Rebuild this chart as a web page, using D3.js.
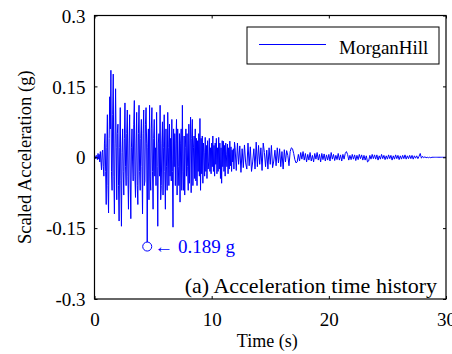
<!DOCTYPE html>
<html>
<head>
<meta charset="utf-8">
<script src="https://cdn.jsdelivr.net/npm/d3@7"></script>
<style>
  html, body { margin: 0; padding: 0; background: #fff; }
  svg text { font-family: "Times New Roman", "Liberation Serif", Tinos, "DejaVu Serif", serif; }
</style>
</head>
<body>
<svg id="chart" width="452" height="354"></svg>
<script>
// Scaled ground acceleration record (g).
// Strong-motion part, sampled every 0.05 s from t = 0 s
const dtStrong = 0.05;
const accelStrong = [
  // 0 - 1 s
  0.000, 0.002, -0.003, 0.004, 0.001, -0.005, 0.008, -0.004, 0.006, -0.010,
  0.012, -0.008, -0.027, 0.010, 0.015, -0.020, -0.040, 0.030, 0.050, -0.030,
  // 1 - 2 s
  -0.100, 0.020, 0.090, -0.060, -0.118, 0.040, 0.128, 0.060, 0.184, -0.030,
  -0.070, 0.090, 0.176, -0.040, -0.120, 0.030, 0.145, 0.020, -0.090, 0.050,
  // 2 - 3 s
  0.070, -0.060, -0.135, 0.020, 0.105, -0.050, -0.146, 0.010, 0.060, -0.030,
  -0.080, 0.040, 0.115, -0.020, -0.060, 0.050, 0.100, -0.040, -0.110, 0.030,
  // 3 - 4 s
  0.090, -0.050, -0.130, 0.020, 0.060, -0.010, -0.050, 0.070, 0.120, -0.040,
  -0.085, 0.030, 0.095, -0.060, -0.100, 0.050, 0.110, -0.030, -0.070, 0.040,
  // 4 - 5 s
  0.080, -0.020, -0.120, 0.050, 0.100, -0.060, -0.050, 0.070, 0.105, 0.030,
  -0.189, 0.020, 0.060, -0.090, 0.110, -0.040, -0.070, 0.060, 0.105, -0.030,
  // 5 - 6 s
  -0.110, 0.040, 0.080, -0.040, 0.020, -0.060, 0.095, -0.020, -0.146, 0.030,
  0.050, -0.040, 0.110, -0.090, -0.060, 0.030, 0.075, -0.080, 0.020, 0.090,
  // 6 - 7 s
  -0.030, -0.110, 0.060, -0.020, -0.070, 0.095, 0.020, -0.060, 0.070, -0.040,
  0.040, -0.050, 0.080, -0.030, -0.148, 0.060, -0.020, 0.050, -0.060, 0.030,
  // 7 - 8 s
  0.080, -0.080, 0.060, -0.020, -0.060, 0.050, -0.095, 0.030, 0.060, -0.070,
  0.110, -0.030, -0.070, 0.045, -0.080, 0.020, 0.060, -0.040, 0.050, -0.020,
  // 8 - 9 s
  -0.070, 0.070, -0.055, 0.030, 0.085, -0.075, 0.040, 0.080, -0.060, 0.020,
  0.045, -0.045, 0.060, -0.050, 0.040, -0.060, 0.035, -0.030, 0.050, -0.040,
  // 9 - 10 s
  0.082, -0.070, 0.040, -0.035, 0.045, -0.055, 0.030, 0.010, -0.040, 0.042,
  -0.030, 0.025, -0.045, 0.035, -0.025, -0.010, 0.040, -0.030, 0.020, -0.035,
  // 10 - 11 s
  0.030, -0.020, 0.045, -0.030, 0.025, -0.040, 0.030, -0.015, 0.040, -0.035,
  0.020, -0.030, 0.042, -0.025, 0.030, -0.045, 0.020, -0.055, 0.035, -0.020,
  // 11 - 12 s
  0.034, -0.030, 0.025, -0.040, 0.030, 0.005, -0.020, 0.028, -0.035, 0.020,
  -0.025, 0.034, -0.018, 0.022, -0.030, 0.015, -0.010, 0.018, -0.025, 0.032
];

// Coda, sampled every 0.1 s from t = 12 s
const codaStart = 12;
const dtCoda = 0.1;
const accelCoda = [
  // 12 - 20 s
  0.020, -0.028, 0.030, -0.015, 0.024, -0.032, 0.018, -0.022, 0.026, -0.012,
  -0.025, 0.030, -0.018, 0.022, -0.030, -0.010, 0.018, -0.025, 0.032, -0.020,
  0.025, -0.015, 0.020, -0.028, 0.030, 0.010, -0.020, 0.015, -0.025, 0.020,
  -0.015, 0.025, -0.022, -0.008, 0.015, -0.018, 0.020, -0.012, 0.018, -0.020,
  0.012, -0.025, 0.016, -0.010, 0.014, 0.004, -0.018, 0.012, 0.020, 0.018,
  0.008, -0.005, -0.012, -0.010, 0.006, -0.008, 0.010, -0.004, 0.012, -0.006,
  0.008, -0.010, 0.006, -0.006, 0.010, -0.008, 0.004, -0.010, 0.008, -0.004,
  0.010, -0.006, 0.006, -0.010, 0.008, -0.005, 0.007, -0.008, 0.005, -0.006,
  // 20 - 30 s
  0.006, -0.008, 0.010, -0.004, 0.006, -0.007, 0.004, -0.005, 0.008, -0.006,
  0.005, -0.008, 0.006, -0.004, 0.008, 0.012, 0.006, -0.006, 0.004, -0.005,
  0.006, -0.004, 0.005, -0.007, 0.004, -0.005, 0.006, -0.003, 0.005, -0.006,
  0.004, -0.006, 0.003, -0.010, -0.008, 0.004, -0.004, 0.006, -0.003, 0.005,
  -0.004, 0.005, -0.006, 0.003, -0.004, 0.006, -0.003, 0.004, -0.005, 0.003,
  -0.004, 0.005, -0.003, 0.004, -0.006, 0.003, -0.004, 0.005, -0.003, 0.004,
  -0.005, 0.003, -0.004, 0.004, -0.003, 0.005, -0.004, 0.003, -0.003, 0.004,
  -0.003, 0.004, -0.004, 0.003, -0.002, 0.003, -0.003, 0.002, 0.008, -0.002,
  0.002, -0.001, 0.001, -0.001, 0.000, -0.001, 0.000, -0.001, 0.000, 0.000,
  0.000, 0.000, 0.000, 0.000, 0.000, 0.000, 0.000, 0.000, 0.000, 0.000,
  0.000
];

const seriesName = "MorganHill";
const xTicks = [0, 10, 20, 30];
const yTicks = [-0.3, -0.15, 0, 0.15, 0.3];
const yTickLabels = ["-0.3", "-0.15", "0", "0.15", "0.3"];
const peakTime = 4.5;     // time of the largest excursion (s)
const peakValue = -0.189; // largest excursion (g)
const peakLabel = "\u2190 0.189 g";
const panelTitle = "(a) Acceleration time history";

const FONT = '"Times New Roman", "Liberation Serif", Tinos, "DejaVu Serif", serif';

const svg = d3.select("#chart");
const plotLeft = 94.5, plotRight = 446, plotTop = 15.5, plotBottom = 299;

const x = d3.scaleLinear().domain([0, 30]).range([plotLeft, plotRight]);
const y = d3.scaleLinear().domain([-0.3, 0.3]).range([plotBottom, plotTop]);

const points = accelStrong.map((v, i) => [i * dtStrong, v])
  .concat(accelCoda.map((v, i) => [codaStart + i * dtCoda, v]));

// signal
svg.append("path")
  .datum(points)
  .attr("fill", "none")
  .attr("stroke", "#0000ff")
  .attr("stroke-width", 1)
  .attr("stroke-linejoin", "round")
  .attr("d", d3.line().x(d => x(d[0])).y(d => y(d[1])));

// axes with inward ticks, mirrored on top/right
const tickLen = 3;
const fmtY = (d) => yTickLabels[yTicks.indexOf(d)];

const gx = svg.append("g").attr("transform", `translate(0,${plotBottom})`)
  .call(d3.axisBottom(x).tickValues(xTicks).tickSize(-tickLen).tickPadding(14).tickFormat(d3.format("d")));
const gxTop = svg.append("g").attr("transform", `translate(0,${plotTop})`)
  .call(d3.axisTop(x).tickValues(xTicks).tickSize(-tickLen).tickFormat(""));
const gy = svg.append("g").attr("transform", `translate(${plotLeft},0)`)
  .call(d3.axisLeft(y).tickValues(yTicks).tickSize(-tickLen).tickPadding(9).tickFormat(fmtY));
const gyRight = svg.append("g").attr("transform", `translate(${plotRight},0)`)
  .call(d3.axisRight(y).tickValues(yTicks).tickSize(-tickLen).tickFormat(""));

[gx, gxTop, gy, gyRight].forEach(g => {
  g.attr("font-family", FONT);
  g.select(".domain").remove();
  g.selectAll(".tick line").attr("stroke", "#000").attr("stroke-width", 1);
  g.selectAll("text").attr("fill", "#000")
    .attr("font-family", FONT)
    .attr("font-size", 19);
});
gy.selectAll("text").attr("dy", "0.35em");

// frame
svg.append("rect")
  .attr("x", plotLeft).attr("y", plotTop)
  .attr("width", plotRight - plotLeft).attr("height", plotBottom - plotTop)
  .attr("fill", "none").attr("stroke", "#000").attr("stroke-width", 1.2);

// axis titles
svg.append("text")
  .attr("x", (plotLeft + plotRight) / 2 - 3).attr("y", 347)
  .attr("text-anchor", "middle")
  .attr("font-family", FONT).attr("font-size", 18)
  .text("Time (s)");

svg.append("text")
  .attr("transform", `translate(31,${(plotTop + plotBottom) / 2}) rotate(-90)`)
  .attr("text-anchor", "middle")
  .attr("font-family", FONT).attr("font-size", 18.5)
  .text("Scaled Acceleration (g)");

// peak marker
svg.append("circle")
  .attr("cx", x(peakTime)).attr("cy", y(peakValue)).attr("r", 4.5)
  .attr("fill", "#fff").attr("stroke", "#0000ff").attr("stroke-width", 1);
svg.append("text")
  .attr("x", x(peakTime) + 7).attr("y", y(peakValue) + 6.5)
  .attr("fill", "#0000ff")
  .attr("font-family", FONT).attr("font-size", 19)
  .text(peakLabel);

// panel caption
svg.append("text")
  .attr("x", 437).attr("y", 293)
  .attr("text-anchor", "end")
  .attr("font-family", FONT).attr("font-size", 22)
  .text(panelTitle);

// legend
const legend = svg.append("g");
legend.append("rect")
  .attr("x", 247).attr("y", 27).attr("width", 192).attr("height", 37)
  .attr("fill", "#fff").attr("stroke", "#000").attr("stroke-width", 1);
legend.append("line")
  .attr("x1", 259).attr("x2", 326).attr("y1", 44.5).attr("y2", 44.5)
  .attr("stroke", "#0000ff").attr("stroke-width", 1);
legend.append("text")
  .attr("x", 339).attr("y", 54)
  .attr("font-family", FONT).attr("font-size", 19)
  .text(seriesName);
</script>
</body>
</html>
